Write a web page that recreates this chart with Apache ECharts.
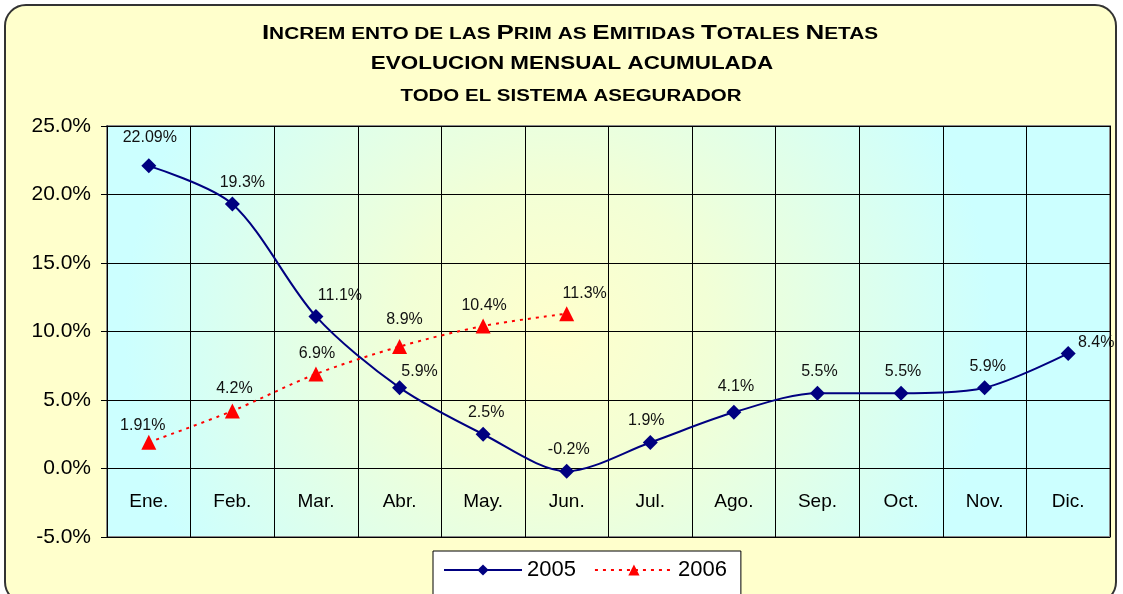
<!DOCTYPE html>
<html style="height: 100%">
<head>
    <meta charset="utf-8">
</head>
<body style="height: 100%; margin: 0; background: #fff">
<div id="chart_container" style="position: absolute; left: 4px; top: 4px; width: 1113px; height: 600px; box-sizing: border-box; border: 2px solid #333; border-radius: 22px; background: #FFFFCC; overflow: hidden"></div>
<script src="https://cdn.jsdelivr.net/npm/echarts@6/dist/echarts.min.js"></script>
<script type="text/javascript">

    var months = ['Ene.', 'Feb.', 'Mar.', 'Abr.', 'May.', 'Jun.', 'Jul.', 'Ago.', 'Sep.', 'Oct.', 'Nov.', 'Dic.'];
    var values_2005 = [22.09, 19.3, 11.1, 5.9, 2.5, -0.2, 1.9, 4.1, 5.5, 5.5, 5.9, 8.4];
    var values_2006 = [1.91, 4.2, 6.9, 8.9, 10.4, 11.3];
    var labels_2005 = ['22.09%', '19.3%', '11.1%', '5.9%', '2.5%', '-0.2%', '1.9%', '4.1%', '5.5%', '5.5%', '5.9%', '8.4%'];
    var labels_2006 = ['1.91%', '4.2%', '6.9%', '8.9%', '10.4%', '11.3%'];
    var y_ticks = [-5, 0, 5, 10, 15, 20, 25];

    // label offsets copied by eye from the reference
    var offsets_2005 = [[1, -5], [10, 2], [24, 3], [20, 7], [3, 2], [2, 2], [-4, 2], [2, -2], [2, 2], [2, 2], [3, 2], [28, 13]];
    var offsets_2006 = [[-6, 7], [2, 1], [1, 3], [5, -3], [1, 3], [18, 3]];

    var chart = echarts.init(document.getElementById('chart_container'));

    // offset of the x axis from the bottom edge, so it sits on 0%
    var plotTop = 120, plotBottom = 65;
    var plotHeight = 596 - plotTop - plotBottom;
    var zeroOffset = plotHeight * (0 - y_ticks[0]) / (y_ticks[y_ticks.length - 1] - y_ticks[0]);

    var option = {
        textStyle: {fontFamily: 'Liberation Sans, Arial, sans-serif'},
        graphic: [
            {
                type: 'text', x: 564, y: 27, scaleX: 1.3,
                style: {
                    text: '{b|I}{s|NCREM ENTO DE LAS }{b|P}{s|RIM AS }{b|E}{s|MITIDAS }{b|T}{s|OTALES }{b|N}{s|ETAS}',
                    align: 'center', verticalAlign: 'middle',
                    rich: {
                        b: {fontSize: 20, fontWeight: 'bold', fill: '#000', fontFamily: 'Liberation Sans', verticalAlign: 'bottom'},
                        s: {fontSize: 16, fontWeight: 'bold', fill: '#000', fontFamily: 'Liberation Sans', verticalAlign: 'bottom'}
                    }
                }
            },
            {
                type: 'text', x: 566, y: 58, scaleX: 1.18,
                style: {
                    text: 'EVOLUCION MENSUAL ACUMULADA',
                    align: 'center', verticalAlign: 'middle',
                    fontSize: 19, fontWeight: 'bold', fill: '#000', fontFamily: 'Liberation Sans'
                }
            },
            {
                type: 'text', x: 565, y: 91, scaleX: 1.28,
                style: {
                    text: 'TODO EL SISTEMA ASEGURADOR',
                    align: 'center', verticalAlign: 'middle',
                    fontSize: 16, fontWeight: 'bold', fill: '#000', fontFamily: 'Liberation Sans'
                }
            }
        ],
        legend: {
            left: 427, top: 545,
            padding: [8, 14, 20, 10],
            backgroundColor: '#fff',
            borderColor: '#000',
            borderWidth: 1,
            itemWidth: 78,
            itemHeight: 14,
            itemGap: 18,
            textStyle: {fontSize: 22, color: '#000'},
            data: ['2005', '2006']
        },
        grid: {
            left: 101, right: 5, top: plotTop, bottom: plotBottom,
            show: true,
            borderColor: '#888',
            borderWidth: 2,
            backgroundColor: {
                type: 'radial', x: 0.45, y: 0.5, r: 1.05,
                colorStops: [
                    {offset: 0, color: '#FFFFCC'},
                    {offset: 0.35, color: '#F2FFD6'},
                    {offset: 1, color: '#CCFFFF'}
                ]
            }
        },
        xAxis: {
            type: 'category',
            data: months,
            boundaryGap: true,
            offset: -zeroOffset,
            axisLine: {onZero: false, lineStyle: {color: '#000', width: 1}},
            axisTick: {show: false},
            axisLabel: {fontSize: 19, color: '#000', margin: 24},
            splitLine: {show: true, lineStyle: {color: '#000', width: 1}}
        },
        yAxis: {
            type: 'value',
            min: y_ticks[0],
            max: y_ticks[y_ticks.length - 1],
            interval: 5,
            axisLine: {show: true, lineStyle: {color: '#000'}},
            axisTick: {show: true, length: 6, lineStyle: {color: '#000'}},
            axisLabel: {
                fontSize: 21, color: '#000', margin: 16,
                formatter: function (v) { return v.toFixed(1) + '%'; }
            },
            splitLine: {show: true, lineStyle: {color: '#000', width: 1}}
        },
        series: [
            {
                name: '2005',
                type: 'line',
                smooth: 0.3,
                symbol: 'diamond',
                symbolSize: 15,
                color: '#000080',
                lineStyle: {color: '#000080', width: 2},
                itemStyle: {color: '#000080'},
                label: {show: true, position: 'top', distance: 8, fontSize: 16, color: '#111'},
                data: values_2005.map(function (v, i) {
                    return {value: v, label: {formatter: labels_2005[i], offset: offsets_2005[i]}};
                })
            },
            {
                name: '2006',
                type: 'line',
                smooth: 0.3,
                symbol: 'triangle',
                symbolSize: 15,
                color: '#FF0000',
                lineStyle: {color: '#FF0000', width: 2, type: [3, 5]},
                itemStyle: {color: '#FF0000'},
                label: {show: true, position: 'top', distance: 8, fontSize: 16, color: '#111'},
                data: values_2006.map(function (v, i) {
                    return {value: v, label: {formatter: labels_2006[i], offset: offsets_2006[i]}};
                })
            }
        ]
    };

    chart.setOption(option);
</script>
</body>
</html>
